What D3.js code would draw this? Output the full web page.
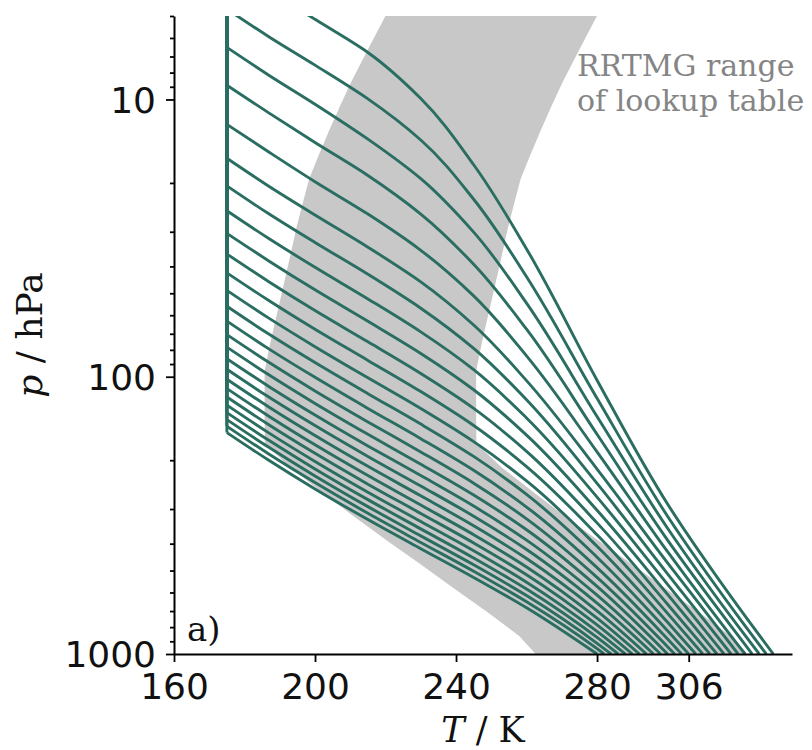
<!DOCTYPE html>
<html><head><meta charset="utf-8">
<script src="https://cdn.jsdelivr.net/npm/d3@7"></script>
<style>body{margin:0;background:#fff}svg{display:block}</style>
</head><body><svg id="chart" width="812" height="750"></svg>
<script>
// Surface temperatures (K) of the profiles, at 1000 hPa
const surfaceTemps = [280,282,284,286,288,290,292,294,296,298,300,302,304,306,308,310,312,314,316,318,320,322,324,326,328,330];
// Temperature levels (K) at which each profile's pressure is read
const tempLevels = [320,300,280,260,245,230,215,200,187,175];
// Pressure (hPa) of each profile at each temperature level (null = warmer than surface)
const levelPressures = [
  [null,null,null,681,529.5,417,327.4,253.8,200.5,159.0],
  [null,null,957,648,503,395.9,310.8,240.8,190.3,150.9],
  [null,null,915,615.7,476.8,374.9,294.1,227.9,180.1,142.8],
  [null,null,871.7,583.2,450.5,353.8,277.5,215.0,169.9,134.7],
  [null,null,829,550.8,424.2,332.7,260.8,202.0,159.7,126.6],
  [null,null,785.5,517.9,397.6,311.3,244.0,188.9,149.3,118.4],
  [null,null,742.5,485.4,371.3,290.3,227.3,176.0,139.1,110.3],
  [null,null,698.9,452.5,344.7,268.9,210.5,162.9,128.8,102.1],
  [null,null,655.5,419.9,318.4,247.8,193.8,150.0,118.6,94.0],
  [null,null,613.2,388.3,292.7,227.3,177.6,137.4,108.6,86.1],
  [null,null,570.6,356.5,267.0,206.7,161.3,124.8,98.6,78.2],
  [null,941.2,528.9,325.4,242.0,186.7,145.5,112.5,88.9,70.5],
  [null,882.5,487.9,295.1,217.5,167.2,130.1,100.5,79.5,63.0],
  [null,824.9,447.5,265.6,193.8,148.2,115.1,88.9,70.3,55.7],
  [null,768.8,409.0,237.7,171.4,130.2,100.9,77.9,61.6,48.8],
  [null,713.6,371.6,210.8,149.9,113.1,87.3,67.4,53.2,42.2],
  [null,661.5,336.6,185.8,130.0,97.3,74.8,57.7,45.5,36.1],
  [null,609.3,303.1,162.4,111.4,82.4,63.1,48.6,38.3,30.4],
  [null,561.0,271.8,140.8,94.3,68.9,52.4,40.3,31.8,25.2],
  [null,513.8,242.6,121.1,79.0,56.6,42.7,32.8,25.9,20.5],
  [null,468.9,215.3,103.3,65.1,45.5,34.1,26.1,20.6,16.3],
  [928.2,427.6,186.6,84.1,51.1,35.0,25.9,19.8,15.5,12.3],
  [857,388.2,161.3,67.4,39.3,25.9,18.8,14.3,11.2,8.89],
  [793.7,351.8,139.2,54.3,30.1,19.3,13.9,10.4,8.19,6.49],
  [731.5,318.5,119.6,43.6,22.9,14.0,9.95,7.52,5.95,4.72],
  [673.5,287.8,102.9,34.6,17.2,9.92,6.77,5.14,4.04,3.20]
];
const surfacePressure = 1000;
const stratosphereTemp = 175;

// RRTMG reference profile; the lookup table covers refTemp +/- lookupHalfRange
const refPressure = [1053.63,862.642,706.272,578.246,473.428,387.610,317.348,259.823,212.725,174.164,142.594,116.746,95.5835,78.2571,64.0715,52.4573,42.9484,35.1632,28.7892,23.5706,19.2980,15.7998,12.9358,10.5910,8.67114,7.09933,5.81244,4.75882,3.89619];
const refTemp = [294.20,287.99,278.94,269.25,259.83,250.17,240.77,231.79,223.06,215.78,215.70,215.70,215.70,217.06,218.58,220.18,221.74,223.28,224.79,226.55,228.34,231.13,234.01,237.03,240.22,243.71,247.26,250.85,254.57];
const lookupHalfRange = 30;

const xTicks = [160,200,240,280,306];
const yMajorTicks = [10,100,1000];
const xDomain = [160,335.3];
const yDomain = [1000,5];

const svg = d3.select('#chart');
const FONT = '"DejaVu Serif", serif';
const TICKFONT = '"DejaVu Sans", sans-serif';
const lineColor = '#2a6d61';

const x = d3.scaleLinear().domain(xDomain).range([174,792]);
const y = d3.scaleLog().domain(yDomain).range([654,16]);

svg.append('defs').append('clipPath').attr('id','plotclip')
  .append('rect').attr('x',174).attr('y',16).attr('width',640).attr('height',638);

const plot = svg.append('g').attr('clip-path','url(#plotclip)');

// gray lookup-table range
const lower = refPressure.map((p,i)=>[refTemp[i]-lookupHalfRange,p]);
const upper = refPressure.map((p,i)=>[refTemp[i]+lookupHalfRange,p]).reverse();
plot.append('path')
  .attr('d', d3.line().x(d=>x(d[0])).y(d=>y(d[1]))(lower.concat(upper)) + 'Z')
  .attr('fill','#c8c8c8').attr('stroke','none');

// profiles
const curve = d3.line().x(d=>x(d[0])).y(d=>y(d[1])).curve(d3.curveMonotoneY);
const straight = d3.line().x(d=>x(d[0])).y(d=>y(d[1]));
surfaceTemps.forEach((ts,i)=>{
  const pts = [];
  tempLevels.forEach((t,k)=>{
    const p = levelPressures[i][k];
    if (p !== null && t < ts) pts.push([t,p]);
  });
  pts.push([ts, surfacePressure]);
  pts.sort((a,b)=>a[1]-b[1]);
  const pTrop = levelPressures[i][tempLevels.indexOf(stratosphereTemp)];
  plot.append('path').attr('d', curve(pts))
    .attr('fill','none').attr('stroke',lineColor).attr('stroke-width',2.9);
  plot.append('path').attr('d', straight([[stratosphereTemp,pTrop],[stratosphereTemp,yDomain[1]]]))
    .attr('fill','none').attr('stroke',lineColor).attr('stroke-width',2.9);
});

// axes
const xAxis = svg.append('g').attr('transform','translate(0,654)')
  .call(d3.axisBottom(x).tickValues(xTicks).tickFormat(d3.format('d')).tickSize(8).tickSizeOuter(0));
xAxis.select('.domain').attr('stroke','#000').attr('stroke-width',2);
xAxis.selectAll('.tick line').attr('stroke','#000').attr('stroke-width',1.8);
xAxis.selectAll('.tick text').attr('font-family',TICKFONT).attr('font-size',36).attr('fill','#111')
  .attr('dy',null).attr('y',45);

const yMinor = y.ticks().filter(v=>!yMajorTicks.includes(v));
const yAxisMinor = svg.append('g').attr('transform','translate(174,0)')
  .call(d3.axisLeft(y).tickValues(yMinor).tickFormat('').tickSize(4).tickSizeOuter(0));
yAxisMinor.select('.domain').remove();
yAxisMinor.selectAll('.tick line').attr('stroke','#000').attr('stroke-width',1.8);

const yAxis = svg.append('g').attr('transform','translate(174,0)')
  .call(d3.axisLeft(y).tickValues(yMajorTicks).tickFormat(d3.format('d')).tickSize(8).tickSizeOuter(0));
yAxis.select('.domain').attr('stroke','#000').attr('stroke-width',2);
yAxis.selectAll('.tick line').attr('stroke','#000').attr('stroke-width',1.8);
yAxis.selectAll('.tick text').attr('font-family',TICKFONT).attr('font-size',36).attr('fill','#111')
  .attr('x',-18).attr('dy','0.36em');

// axis labels
const xl = svg.append('text').attr('x',483).attr('y',742).attr('text-anchor','middle')
  .attr('font-family',FONT).attr('font-size',35).attr('fill','#111');
xl.append('tspan').attr('font-style','italic').text('T');
xl.append('tspan').text(' / K');

const yl = svg.append('text').attr('transform','translate(42,335) rotate(-90)').attr('text-anchor','middle')
  .attr('font-family',FONT).attr('font-size',36).attr('fill','#111');
yl.append('tspan').attr('font-style','italic').text('p');
yl.append('tspan').text(' / hPa');

svg.append('text').attr('x',187).attr('y',641).attr('font-family',FONT).attr('font-size',34)
  .attr('fill','#111').text('a)');

const note = svg.append('text').attr('font-family',FONT).attr('font-size',30).attr('fill','#858585');
note.append('tspan').attr('x',577).attr('y',76).text('RRTMG range');
note.append('tspan').attr('x',577).attr('y',111).text('of lookup table');
</script></body></html>
